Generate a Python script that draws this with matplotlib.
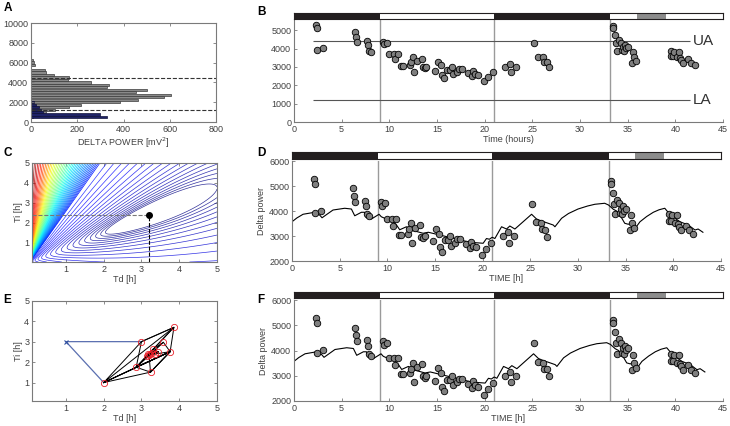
"""
Sleep homeostasis figure: delta power histogram, data vs. model fits,
cost surface and simplex search.
"""

import matplotlib
matplotlib.use("Agg")
import matplotlib.pyplot as plt
import matplotlib.patches as mpatches
import numpy as np

plt.rcParams["font.family"] = ["Liberation Sans", "DejaVu Sans"]

# --- panel A: histogram of delta power --------------------------------------
HIST_BINS = [500, 750, 1000, 1250, 1500, 1750, 2000, 2250, 2500, 2750, 3000,
             3250, 3500, 3750, 4000, 4250, 4500, 4750, 5000, 5250, 5500,
             5750, 6000, 6250]
HIST_ALL = [10, 40, 65, 102, 163, 215, 383, 463, 573, 604, 452,
            503, 328, 337, 258, 158, 163, 100, 63, 59, 0,
            16, 13, 9]
HIST_LOW = [327, 297, 50, 42, 35, 20, 15, 0, 0, 0, 0,
            0, 0, 0, 0, 0, 0, 0, 0, 0, 0,
            0, 0, 0]
UA = 4420
LA = 1210

# --- panels B, D, F: measured delta power and model -------------------------
SAMPLE_T = [2.27, 2.38, 2.45, 3.08, 6.44, 6.51, 6.58, 7.70, 7.77, 7.91, 8.05,
            9.38, 9.48, 9.73, 10.0, 10.5, 10.64, 10.95, 11.2, 11.48,
            12.2, 12.3, 12.45, 12.6, 12.9, 13.4, 13.5, 13.7, 13.9, 14.8,
            15.15, 15.4, 15.5, 15.75, 16.0, 16.4, 16.55, 16.7, 17.1, 17.35,
            17.6, 18.3, 18.65, 18.8, 19.0, 19.35, 19.9, 20.4, 20.9,
            22.15, 22.7, 22.75, 23.3, 25.2, 25.6, 26.1, 26.25, 26.5, 26.7,
            33.45, 33.5, 33.7, 33.8, 33.9, 34.05, 34.3, 34.4, 34.5, 34.6,
            34.75, 34.85, 35.0, 35.45, 35.55, 35.7, 35.9,
            39.5, 39.55, 39.8, 39.9, 40.2, 40.35, 40.45, 40.6, 40.8,
            41.3, 41.65, 42.1]
SAMPLE_DELTA = [5270, 5090, 3920, 4010, 4910, 4600, 4370, 4420, 4190, 3880, 3790,
                4370, 4220, 4310, 3700, 3700, 3410, 3700, 3050, 3050,
                3100, 3280, 3520, 2740, 3340, 3450, 2980, 2920, 3010, 2800,
                3290, 3100, 2560, 2380, 2830, 2830, 3010, 2620, 2740, 2870,
                2870, 2690, 2510, 2780, 2620, 2560, 2240, 2470, 2710,
                3010, 3160, 2740, 3010, 4280, 3560, 3520, 3280, 3250, 2980,
                5220, 5090, 4730, 4280, 3880, 4460, 4310, 3920, 4100, 3880,
                4190, 4010, 4100, 3230, 3830, 3520, 3320,
                3880, 3590, 3590, 3830, 3520, 3830, 3470, 3380, 3230,
                3410, 3230, 3100]

MODEL_T = [0.0, 0.5, 1.16, 2.38, 2.63, 2.9, 3.15, 4.3, 5.53, 6.23, 6.58,
           7.28, 7.6, 7.8, 8.15, 8.33, 9.13, 9.37, 9.9, 10.43, 10.96, 11.3,
           12.0, 12.5, 13.75, 14.3, 15.5, 17.25, 18.65, 20.05, 20.4, 20.7,
           21.0, 21.28, 21.98, 22.5, 22.85, 23.38, 25.13, 25.65, 26.18, 26.87,
           27.4, 27.58, 28.28, 29.0, 30.0, 31.0, 31.77, 32.8, 33.2, 33.7,
           34.05, 34.4, 34.9, 35.27, 35.6, 36.0, 36.5, 37.2, 37.9, 38.5,
           39.1, 39.45, 40.17, 40.7, 41.57, 42.27, 42.6, 43.1]
MODEL_DELTA = [3570, 3720, 3870, 3950, 3870, 3840, 3730, 4040, 4110, 4080, 3810,
               3950, 3950, 3730, 3810, 3680, 3870, 3770, 3680, 3640, 3440, 3250,
               3370, 3240, 3110, 3150, 3040, 2880, 2750, 2710, 2900, 2870,
               2950, 2900, 3370, 3280, 3400, 3280, 3870, 3680, 3600, 3510,
               3440, 3370, 3710, 3900, 4080, 4200, 4270, 4310, 4240, 4070,
               4000, 3840, 3510, 3470, 3510, 3310, 3570, 3780, 3950, 4050,
               4110, 3950, 3710, 3570, 3440, 3240, 3280, 3150]

# light schedule bar
LIGHT_START = [0, 9, 21, 33.2, 36, 39]
LIGHT_END = [9, 21, 33.2, 36, 39, 45]
LIGHT_STATE = ["dark", "light", "dark", "light", "sd", "light"]
TRANSITIONS = [9, 21, 33.2]

# --- panels C, E: parameter search ------------------------------------------
TD_OPT, TI_OPT = 3.2, 2.4

SIMPLEX_TD = [1.0, 2.0, 3.0, 3.86, 2.86, 3.24, 3.76, 3.58, 3.30, 3.20, 3.45,
              3.15, 3.35, 3.22, 3.28, 3.18]
SIMPLEX_TI = [3.0, 1.0, 3.0, 3.70, 1.75, 1.51, 2.51, 2.97, 2.62, 2.35, 2.50,
              2.30, 2.42, 2.40, 2.45, 2.38]
SIMPLEX_TRI = [(1, 2, 3), (2, 4, 3), (4, 3, 6), (1, 4, 6), (1, 5, 6),
               (4, 5, 6), (4, 6, 7), (4, 7, 8), (5, 6, 9), (9, 8, 10),
               (9, 10, 11), (11, 10, 12), (11, 12, 13), (13, 12, 14),
               (13, 14, 15)]

STATE_COLORS = {"dark": "#231f20", "light": "white", "sd": "#8c8c8c"}
TICK_COLOR = "#404040"
SPINE_COLOR = "#7a7a7a"
FS = 6.5


def cost_fn(td, ti):
    # fit error landscape: narrow valley along Ti/Td = const
    return (ti / td - TI_OPT / TD_OPT) ** 2 + 0.15 * np.log(td / TD_OPT) ** 2


def style_axes(ax, box=True):
    for side, sp in ax.spines.items():
        sp.set_color(SPINE_COLOR)
        sp.set_linewidth(0.8)
        if not box and side in ("top", "right"):
            sp.set_visible(False)
    ax.tick_params(direction="in", length=2.5, width=0.6, colors=SPINE_COLOR,
                   labelcolor=TICK_COLOR, labelsize=FS, pad=2,
                   top=box, right=box)


def light_bar(fig, rect):
    ax = fig.add_axes(rect)
    for s, e, st in zip(LIGHT_START, LIGHT_END, LIGHT_STATE):
        ax.add_patch(mpatches.Rectangle((s, 0), e - s, 1,
                                        facecolor=STATE_COLORS[st],
                                        edgecolor="none"))
    ax.set_xlim(0, 45)
    ax.set_ylim(0, 1)
    ax.set_xticks([])
    ax.set_yticks([])
    for sp in ax.spines.values():
        sp.set_color("#231f20")
        sp.set_linewidth(0.8)
    return ax


def time_course(ax):
    for t in TRANSITIONS:
        ax.axvline(t, color="#9a9a9a", linewidth=1.0, zorder=1)
    ax.plot(MODEL_T, MODEL_DELTA, color="black", linewidth=0.8, zorder=2)
    ax.scatter(SAMPLE_T, SAMPLE_DELTA, s=22, facecolor="#7f7f7f",
               edgecolor="black", linewidth=0.6, zorder=3)
    ax.set_xlim(0, 45)
    ax.set_ylim(2000, 6000)
    ax.set_xticks(range(0, 46, 5))
    ax.set_yticks(range(2000, 6001, 1000))
    ax.set_xlabel("TIME [h]", fontsize=FS, color=TICK_COLOR, labelpad=1)
    ax.set_ylabel("Delta power", fontsize=FS, color=TICK_COLOR, labelpad=2)
    style_axes(ax, box=False)


def main():
    fig = plt.figure(figsize=(7.3, 4.26), dpi=100)

    # A
    ax = fig.add_axes([0.0425, 0.7136, 0.2534, 0.2324])
    ax.barh(HIST_BINS, HIST_ALL, height=225, color="#8a8a8a",
            edgecolor="#3a3a3a", linewidth=0.5)
    ax.barh(HIST_BINS, HIST_LOW, height=225, color="#1f2366",
            edgecolor="#10123a", linewidth=0.5)
    ax.axhline(UA, color="#333333", linestyle="--", linewidth=0.8)
    ax.axhline(LA, color="#333333", linestyle="--", linewidth=0.8)
    ax.set_xlim(0, 800)
    ax.set_ylim(0, 10000)
    ax.set_xticks(range(0, 801, 200))
    ax.set_yticks(range(0, 10001, 2000))
    ax.set_xlabel("DELTA POWER [mV$^2$]", fontsize=FS, color=TICK_COLOR,
                  labelpad=1)
    style_axes(ax)

    # B
    ax = fig.add_axes([0.4027, 0.7136, 0.5877, 0.2394])
    for t in TRANSITIONS:
        ax.axvline(t, color="#9a9a9a", linewidth=1.0, zorder=1)
    ax.hlines([UA, LA], 2, 41.5, color="#555555", linewidth=0.8)
    ax.scatter(SAMPLE_T, SAMPLE_DELTA, s=22, facecolor="#7f7f7f",
               edgecolor="black", linewidth=0.6, zorder=3)
    ax.text(41.8, UA, "UA", fontsize=11, color="#333333", va="center")
    ax.text(41.8, LA, "LA", fontsize=11, color="#333333", va="center")
    ax.set_xlim(0, 45)
    ax.set_ylim(0, 5550)
    ax.set_xticks(range(0, 46, 5))
    ax.set_yticks(range(0, 5001, 1000))
    ax.set_xlabel("Time (hours)", fontsize=FS, color=TICK_COLOR, labelpad=1)
    style_axes(ax, box=False)
    light_bar(fig, [0.4027, 0.9561, 0.5877, 0.0127])

    # C: cost surface over (Td, Ti)
    ax = fig.add_axes([0.0438, 0.385, 0.2534, 0.2324])
    td = np.linspace(0.1, 5, 400)
    ti = np.linspace(0.05, 5, 400)
    TD, TI = np.meshgrid(td, ti)
    cost = cost_fn(TD, TI)
    # high levels: spread evenly where they cross the top edge;
    # low levels: geometric down into the valley
    top_td = np.linspace(0.12, 1.9, 42)
    high = cost_fn(top_td, 5.0)[::-1]
    low = np.geomspace(0.03, high[0], 19)[:-1]
    levels = np.concatenate([low, high])
    frac = np.concatenate([
        np.linspace(0.0, 0.14, len(low)),
        np.interp(top_td, [0.12, 0.4, 0.7, 1.15, 1.9],
                  [1.0, 0.85, 0.62, 0.38, 0.15])[::-1],
    ])
    colors = plt.get_cmap("jet")(frac)
    colors[:len(low), 3] = 0.8
    ax.contour(TD, TI, cost, levels=levels, colors=colors, linewidths=0.5)
    ax.plot([0.1, TD_OPT], [TI_OPT, TI_OPT], color="#777777",
            linestyle="--", linewidth=0.8)
    ax.plot([TD_OPT, TD_OPT], [0.05, TI_OPT], color="black",
            linestyle="--", linewidth=0.8)
    ax.plot(TD_OPT, TI_OPT, "o", color="black", markersize=4)
    ax.set_xlim(0.1, 5)
    ax.set_ylim(0.05, 5)
    ax.set_xticks(range(1, 6))
    ax.set_yticks(range(1, 6))
    ax.set_xlabel("Td [h]", fontsize=FS, color=TICK_COLOR, labelpad=1)
    ax.set_ylabel("Ti [h]", fontsize=FS, color=TICK_COLOR, labelpad=1)
    style_axes(ax)

    # D
    ax = fig.add_axes([0.4, 0.3873, 0.5877, 0.2347])
    time_course(ax)
    light_bar(fig, [0.4, 0.6275, 0.5877, 0.015])

    # E: simplex path
    ax = fig.add_axes([0.0438, 0.0587, 0.2534, 0.2354])
    ax.plot([SIMPLEX_TD[1], SIMPLEX_TD[0], SIMPLEX_TD[2]],
            [SIMPLEX_TI[1], SIMPLEX_TI[0], SIMPLEX_TI[2]],
            color="#5a6fb0", linewidth=0.9)
    for tri in SIMPLEX_TRI:
        idx = list(tri) + [tri[0]]
        ax.plot([SIMPLEX_TD[i] for i in idx], [SIMPLEX_TI[i] for i in idx],
                color="black", linewidth=0.7)
    ax.plot(SIMPLEX_TD[1:], SIMPLEX_TI[1:], "o", linestyle="none",
            markersize=4.5, markerfacecolor="none", markeredgecolor="#e8202a",
            markeredgewidth=0.6)
    ax.plot(SIMPLEX_TD[0], SIMPLEX_TI[0], "x", color="#3050a0", markersize=3.5,
            markeredgewidth=0.8)
    ax.set_xlim(0.1, 5)
    ax.set_ylim(0.1, 5)
    ax.set_xticks(range(1, 6))
    ax.set_yticks(range(1, 6))
    ax.set_xlabel("Td [h]", fontsize=FS, color=TICK_COLOR, labelpad=1)
    ax.set_ylabel("Ti [h]", fontsize=FS, color=TICK_COLOR, labelpad=1)
    style_axes(ax)

    # F
    ax = fig.add_axes([0.4027, 0.0587, 0.5877, 0.237])
    time_course(ax)
    light_bar(fig, [0.4027, 0.2998, 0.5877, 0.0155])

    # panel letters
    for letter, x, y in [("A", 0.005, 0.995), ("B", 0.352, 0.985),
                         ("C", 0.005, 0.655), ("D", 0.352, 0.655),
                         ("E", 0.005, 0.31), ("F", 0.352, 0.31)]:
        fig.text(x, y, letter, fontsize=8.5, fontweight="bold", va="top")

    fig.savefig("out.png", dpi=100)


if __name__ == "__main__":
    main()
